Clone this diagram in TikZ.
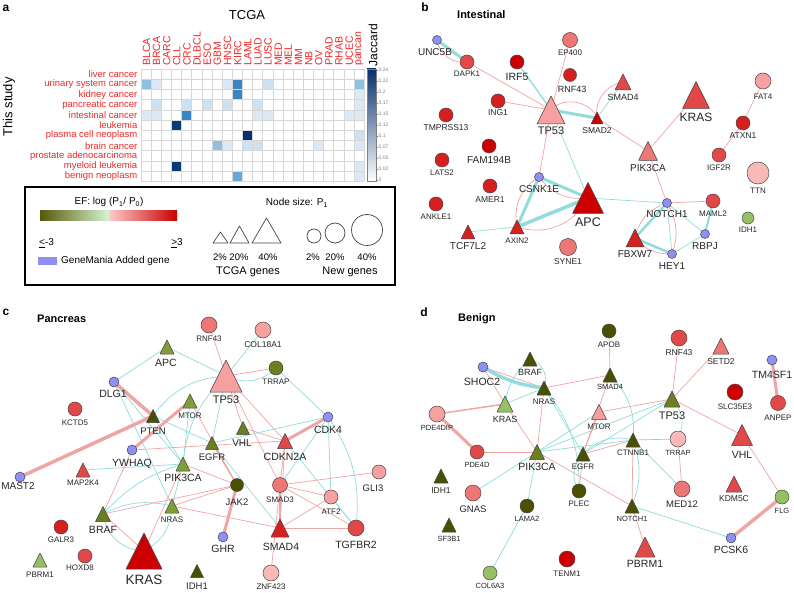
\documentclass[tikz,border=0pt]{standalone}
\usepackage{fontspec}
\setmainfont{Liberation Sans}
\usetikzlibrary{shapes.geometric}
\pgfdeclarelayer{bg}
\pgfdeclarelayer{bgback}
\pgfsetlayers{bgback,bg,main}
\definecolor{eblue}{RGB}{143,143,245}
\definecolor{r1}{RGB}{204,0,0}
\definecolor{r2}{RGB}{214,32,32}
\definecolor{r3}{RGB}{226,72,72}
\definecolor{r4}{RGB}{238,118,118}
\definecolor{r5}{RGB}{246,160,160}
\definecolor{r6}{RGB}{250,185,185}
\definecolor{g1}{RGB}{74,80,0}
\definecolor{g2}{RGB}{106,128,32}
\definecolor{g3}{RGB}{128,158,55}
\definecolor{g4}{RGB}{150,192,100}
\definecolor{redlbl}{RGB}{240,40,40}
\definecolor{edgep}{RGB}{240,165,165}
\definecolor{edgec}{RGB}{145,220,220}
\definecolor{bord}{RGB}{70,70,70}
\definecolor{gridc}{RGB}{215,215,215}
\definecolor{hA}{HTML}{DCE9F5}
\definecolor{hB}{HTML}{CCE1F1}
\definecolor{hC}{HTML}{90C0E0}
\definecolor{hD}{HTML}{6AA8D5}
\definecolor{hE}{HTML}{3A85C2}
\definecolor{hF}{HTML}{0B3A78}
\definecolor{hG}{HTML}{08306B}
\newcommand\hm[3]{\fill[#3] ({141+10.14*#1},{69+10.2*#2}) rectangle ++(10.14,10.2);}
\newcommand\mycirc[5]{\node[cnd, fill=#5, minimum size=#4pt] (#1) at (#2,#3) {};}
\newcommand\mytri[5]{\node[tbox, minimum width=#4pt, minimum height=#4pt] (#1) at (#2,#3) {};
  \filldraw[fill=#5, tborder] (#1.south west) -- (#1.south east) -- (#1.north) -- cycle;}
\newcommand\lab[5]{\node[lbl, font=\fontsize{#4}{#4}\selectfont] (#1) at (#2,#3) {#5};}
\begin{document}
\begin{tikzpicture}[x=1pt,y=-1pt,
  cnd/.style={circle, draw=bord, line width=0.5pt, inner sep=0pt, outer sep=0pt},
  tbox/.style={rectangle, draw=none, inner sep=0pt, outer sep=0pt},
  tborder/.style={draw=bord, line width=0.5pt, line join=round},
  lbl/.style={inner sep=0pt, text=black!85},
  pk/.style={draw=edgep, line width=0.7pt},
  ck/.style={draw=edgec, line width=0.7pt},
  rowl/.style={anchor=east, inner sep=0pt, text=redlbl, font=\fontsize{9.5}{9.5}\selectfont},
  coll/.style={anchor=west, rotate=90, inner sep=0pt, text=redlbl, font=\fontsize{10.5}{10.5}\selectfont},
  hdr/.style={inner sep=0pt, font=\bfseries\fontsize{12}{12}\selectfont},
  ttl/.style={inner sep=0pt, anchor=west, font=\bfseries\fontsize{11}{11}\selectfont}]
\useasboundingbox (0,0) rectangle (794,593);
\begin{pgfonlayer}{bgback}
\fill[white] (0,0) rectangle (794,593);
\end{pgfonlayer}

% ================= panel a =================
\node[hdr] (pa) at (6,8) {a};
\node[inner sep=0pt, font=\fontsize{13}{13}\selectfont] (tcga) at (247,15) {TCGA};
\node[inner sep=0pt, rotate=90, font=\fontsize{13}{13}\selectfont] (study) at (9,107) {This study};
\node[inner sep=0pt, rotate=90, font=\fontsize{12}{12}\selectfont] (jac) at (373,45) {Jaccard};
% cells
\hm{0}{1}{hC}\hm{1}{1}{hA}\hm{8}{1}{hA}\hm{9}{1}{hE}\hm{12}{1}{hB}\hm{21}{1}{hC}
\hm{9}{2}{hE}\hm{21}{2}{hA}
\hm{1}{3}{hB}\hm{4}{3}{hB}\hm{6}{3}{hB}\hm{8}{3}{hB}\hm{11}{3}{hB}\hm{21}{3}{hA}
\hm{0}{4}{hA}\hm{1}{4}{hA}\hm{4}{4}{hE}\hm{11}{4}{hA}\hm{12}{4}{hA}\hm{20}{4}{hA}\hm{21}{4}{hA}
\hm{3}{5}{hF}
\hm{10}{6}{hG}\hm{21}{6}{hB}
\hm{7}{7}{hC}\hm{8}{7}{hA}\hm{10}{7}{hB}\hm{11}{7}{hB}\hm{17}{7}{hA}\hm{21}{7}{hA}
\hm{3}{9}{hF}\hm{21}{9}{hA}
\hm{9}{10}{hD}\hm{21}{10}{hA}
\foreach \i in {0,...,22} \draw[gridc, line width=0.5pt] ({141+10.14*\i},69) -- ({141+10.14*\i},181.2);
\foreach \j in {0,...,11} \draw[gridc, line width=0.5pt] (141,{69+10.2*\j}) -- (364.1,{69+10.2*\j});
\foreach \n [count=\i from 0] in {BLCA,BRCA,CARC,CLL,CRC,DLBCL,ESO,GBM,HNSC,KIRC,LAML,LUAD,LUSC,MED,MEL,MM,NB,OV,PRAD,RHAB,UCEC,pancan}
  \node[coll] (col\i) at ({141+10.14*\i+5.4},66) {\n};
\foreach \n [count=\j from 0] in {liver cancer,urinary system cancer,kidney cancer,pancreatic cancer,intestinal cancer,leukemia,plasma cell neoplasm,brain cancer,prostate adenocarcinoma,myeloid leukemia,benign neoplasm}
  \node[rowl] (row\j) at (137.5,{69+10.2*\j+5.3}) {\n};
% colour bar
\shade[top color=hG, bottom color=white] (367,69) rectangle (376,181);
\draw[gray, line width=0.4pt] (367,69) rectangle (376,181);
\foreach \t [count=\k from 0] in {0.24,0.22,0.2,0.17,0.15,0.12,0.1,0.07,0.05,0.02,0} {
  \draw[gray, line width=0.3pt] (376,{70+11*\k}) -- (378,{70+11*\k});
  \node[anchor=west, inner sep=0.4pt, text=gray, font=\fontsize{5}{5}\selectfont] (tk\k) at (378,{70+11*\k}) {\t};
}
% legend
\draw[line width=1.3pt] (25,187) rectangle (395,285);
\node[inner sep=0pt, font=\fontsize{10}{10}\selectfont] (eflab) at (109,202) {EF: log (P\textsubscript{1}/ P\textsubscript{0})};
\shade[left color={rgb,255:red,88;green,88;blue,8}, middle color={rgb,255:red,150;green,172;blue,80}, right color={rgb,255:red,212;green,246;blue,212}] (40,211) rectangle (109,221);
\shade[left color={rgb,255:red,255;green,202;blue,202}, middle color={rgb,255:red,236;green,110;blue,110}, right color={rgb,255:red,200;green,0;blue,0}] (109,211) rectangle (177,221);
\node[inner sep=0pt, anchor=west, font=\fontsize{10}{10}\selectfont] (lowlab) at (39,243) {\underline{<}-3};
\node[inner sep=0pt, anchor=east, font=\fontsize{10}{10}\selectfont] (highlab) at (183,243) {\underline{>}3};
\fill[eblue] (38,257) rectangle (57,265);
\node[inner sep=0pt, anchor=west, font=\fontsize{10}{10}\selectfont] (gmlab) at (61,261) {GeneMania Added gene};
\node[inner sep=0pt, font=\fontsize{10}{10}\selectfont] (nslab) at (297,203) {Node size: P\textsubscript{1}};
\draw[bord, line width=0.7pt, line join=round] (213,243) -- (220.5,232) -- (228,243) -- cycle;
\draw[bord, line width=0.7pt, line join=round] (230,243) -- (239.5,226) -- (249,243) -- cycle;
\draw[bord, line width=0.7pt, line join=round] (252,243) -- (266.5,218) -- (281,243) -- cycle;
\draw[bord, line width=0.7pt] (314,236) circle (7);
\draw[bord, line width=0.7pt] (335,233) circle (10);
\draw[bord, line width=0.7pt] (367,230) circle (15.5);
\node[inner sep=0pt, font=\fontsize{9.5}{9.5}\selectfont] (p1) at (220,257) {2\%};
\node[inner sep=0pt, font=\fontsize{9.5}{9.5}\selectfont] (p2) at (239,257) {20\%};
\node[inner sep=0pt, font=\fontsize{9.5}{9.5}\selectfont] (p3) at (268,257) {40\%};
\node[inner sep=0pt, font=\fontsize{9.5}{9.5}\selectfont] (q1) at (313,257) {2\%};
\node[inner sep=0pt, font=\fontsize{9.5}{9.5}\selectfont] (q2) at (335,257) {20\%};
\node[inner sep=0pt, font=\fontsize{9.5}{9.5}\selectfont] (q3) at (367,257) {40\%};
\node[inner sep=0pt, font=\fontsize{11}{11}\selectfont] (tg) at (248,272) {TCGA genes};
\node[inner sep=0pt, font=\fontsize{11}{11}\selectfont] (ng) at (350,272) {New genes};

% ================= panel b =================
\node[hdr] (pb) at (425,7) {b};
\node[ttl] (tb) at (457,15) {Intestinal};
\mycirc{bUNC5B}{437}{40}{9}{eblue}
\mycirc{bDAPK1}{467}{62}{14}{r3}
\mycirc{bIRF5}{517}{62}{14}{r1}
\mycirc{bEP400}{570}{40}{15}{r4}
\mycirc{bRNF43}{570}{75}{13}{r2}
\mytri{bSMAD4}{623}{82}{16}{r3}
\mytri{bKRAS}{696}{95}{27}{r3}
\mycirc{bFAT4}{763}{81}{16}{r5}
\mycirc{bING1}{498}{101}{14}{r2}
\mytri{bTP53}{551}{110}{28}{r5}
\mytri{bSMAD2}{597}{118}{12}{r1}
\mycirc{bTMPRSS13}{446}{115}{14}{r2}
\mycirc{bATXN1}{743}{123}{14}{r2}
\mycirc{bFAM194B}{489}{146}{14}{r1}
\mycirc{bLATS2}{442}{160}{14}{r2}
\mytri{bPIK3CA}{648}{151}{19}{r4}
\mycirc{bIGF2R}{719}{155}{14}{r3}
\mycirc{bTTN}{758}{173}{22}{r6}
\mycirc{bCSNK1E}{539}{177}{9}{eblue}
\mycirc{bAMER1}{490}{186}{14}{r2}
\mytri{bAPC}{588}{198}{31}{r1}
\mycirc{bNOTCH1}{667}{203}{9}{eblue}
\mycirc{bMAML2}{713}{201}{14}{r3}
\mycirc{bANKLE1}{436}{204}{14}{r2}
\mycirc{bIDH1}{748}{218}{12}{g4}
\mytri{bTCF7L2}{468}{232}{14}{r2}
\mytri{bAXIN2}{517}{227}{14}{r2}
\mycirc{bSYNE1}{568}{247}{17}{r4}
\mytri{bFBXW7}{635}{238}{18}{r2}
\mycirc{bRBPJ}{705}{234}{9}{eblue}
\mycirc{bHEY1}{672}{254}{9}{eblue}
\lab{bUNC5BL}{435}{52}{10}{UNC5B}
\lab{bDAPK1L}{467}{74}{8}{DAPK1}
\lab{bIRF5L}{517}{77}{10.5}{IRF5}
\lab{bEP400L}{570}{53}{8}{EP400}
\lab{bRNF43L}{572}{89}{9}{RNF43}
\lab{bSMAD4L}{623}{97}{9}{SMAD4}
\lab{bKRASL}{696}{117}{12}{KRAS}
\lab{bFAT4L}{763}{97}{8}{FAT4}
\lab{bING1L}{498}{113}{8.5}{ING1}
\lab{bTP53L}{551}{131}{11}{TP53}
\lab{bSMAD2L}{597}{131}{8.5}{SMAD2}
\lab{bTMPRSS13L}{446}{128}{8.5}{TMPRSS13}
\lab{bATXN1L}{743}{136}{8.5}{ATXN1}
\lab{bFAM194BL}{489}{160}{10}{FAM194B}
\lab{bLATS2L}{442}{173}{8}{LATS2}
\lab{bPIK3CAL}{648}{168}{10}{PIK3CA}
\lab{bIGF2RL}{719}{168}{8}{IGF2R}
\lab{bTTNL}{758}{191}{8}{TTN}
\lab{bCSNK1EL}{539}{189}{10}{CSNK1E}
\lab{bAMER1L}{490}{200}{8.5}{AMER1}
\lab{bAPCL}{588}{222}{12.5}{APC}
\lab{bNOTCH1L}{667}{214}{10}{NOTCH1}
\lab{bMAML2L}{713}{214}{8}{MAML2}
\lab{bANKLE1L}{436}{217}{8}{ANKLE1}
\lab{bIDH1L}{748}{230}{8}{IDH1}
\lab{bTCF7L2L}{468}{246}{10}{TCF7L2}
\lab{bAXIN2L}{517}{241}{8}{AXIN2}
\lab{bSYNE1L}{568}{262}{8.5}{SYNE1}
\lab{bFBXW7L}{635}{254}{10}{FBXW7}
\lab{bRBPJL}{705}{246}{10}{RBPJ}
\lab{bHEY1L}{672}{266}{10}{HEY1}
\begin{pgfonlayer}{bg}
\draw[ck, line width=3pt] (bUNC5B.center) -- (bDAPK1.center);
\draw[pk] (bUNC5B.center) to[bend right=45] (bDAPK1.center);
\draw[pk] (bDAPK1.center) -- (bTP53.center);
\draw[ck, line width=1.3pt] (bIRF5.center) -- (bTP53.center);
\draw[pk] (bEP400.center) -- (bTP53.center);
\draw[pk] (bING1.center) -- (bTP53.center);
\draw[ck, line width=3pt] (bTP53.center) -- (bSMAD2.center);
\draw[pk] (bTP53.center) to[bend left=60] (bSMAD2.center);
\draw[pk] (bSMAD2.center) to[bend left=45] (bSMAD4.center);
\draw[ck] (bSMAD2.center) -- (bSMAD4.center);
\draw[pk] (bSMAD2.center) -- (bPIK3CA.center);
\draw[pk] (bKRAS.center) -- (bPIK3CA.center);
\draw[pk] (bFAT4.center) -- (bATXN1.center);
\draw[pk] (bATXN1.center) -- (bIGF2R.center);
\draw[pk] (bTP53.center) -- (bCSNK1E.center);
\draw[ck] (bTP53.center) -- (bAPC.center);
\draw[ck, line width=3pt] (bCSNK1E.center) -- (bAPC.center);
\draw[pk] (bCSNK1E.center) to[bend right=30] (bAPC.center);
\draw[ck, line width=3pt] (bCSNK1E.center) -- (bAXIN2.center);
\draw[pk] (bCSNK1E.center) to[bend right=35] (bAXIN2.center);
\draw[ck, line width=3.5pt] (bAXIN2.center) -- (bAPC.center);
\draw[pk] (bAXIN2.center) to[bend right=40] (bAPC.center);
\draw[ck] (bTCF7L2.center) -- (bAXIN2.center);
\draw[ck] (bAPC.center) -- (bNOTCH1.center);
\draw[pk] (bPIK3CA.center) -- (bNOTCH1.center);
\draw[pk] (bNOTCH1.center) -- (bMAML2.center);
\draw[ck, line width=2.5pt] (bNOTCH1.center) -- (bFBXW7.center);
\draw[ck, line width=2.5pt] (bFBXW7.center) -- (bHEY1.center);
\draw[ck] (bNOTCH1.center) -- (bHEY1.center);
\draw[pk] (bNOTCH1.center) to[bend left=25] (bHEY1.center);
\draw[pk] (bFBXW7.center) to[bend left=30] (bNOTCH1.center);
\draw[pk] (bFBXW7.center) to[bend right=25] (bHEY1.center);
\draw[ck] (bNOTCH1.center) -- (bRBPJ.center);
\draw[ck] (bRBPJ.center) -- (bHEY1.center);
\draw[ck, line width=2pt] (bMAML2.center) -- (bRBPJ.center);
\end{pgfonlayer}

% ================= panel c =================
\node[hdr] (pc) at (6,312) {c};
\node[ttl] (tc) at (37,319) {Pancreas};
\mycirc{cRNF43}{209}{325}{16}{r4}
\mycirc{cCOL18A1}{263}{330}{16}{r5}
\mytri{cAPC}{167}{347}{14}{g3}
\mytri{cTP53}{226}{376}{32}{r5}
\mycirc{cTRRAP}{276}{368}{14}{g2}
\mycirc{cDLG1}{114}{382}{10}{eblue}
\mycirc{cKCTD5}{75}{409}{14}{r3}
\mytri{cPTEN}{153}{416}{13}{g1}
\mytri{cMTOR}{190}{401}{14}{g3}
\mytri{cVHL}{243}{428}{13}{g2}
\mycirc{cCDK4}{328}{417}{10}{eblue}
\mytri{cEGFR}{212}{443}{13}{g2}
\mytri{cCDKN2A}{285}{441}{15}{r3}
\mycirc{cYWHAQ}{132}{450}{10}{eblue}
\mytri{cPIK3CA}{183}{464}{14}{g3}
\mycirc{cMAST2}{20}{477}{10}{eblue}
\mytri{cMAP2K4}{83}{470}{14}{r3}
\mycirc{cJAK2}{237}{485}{13}{g1}
\mycirc{cSMAD3}{280}{485}{15}{r4}
\mycirc{cGLI3}{379}{472}{14}{r5}
\mycirc{cATF2}{331}{497}{14}{r5}
\mytri{cBRAF}{103}{514}{15}{g2}
\mytri{cNRAS}{172}{506}{14}{g3}
\mycirc{cGALR3}{61}{527}{14}{r2}
\mytri{cKRAS}{144}{551}{36}{r1}
\mycirc{cGHR}{223}{537}{10}{eblue}
\mytri{cSMAD4}{280}{528}{18}{r2}
\mycirc{cTGFBR2}{356}{528}{16}{r3}
\mytri{cPBRM1}{40}{560}{14}{g4}
\mycirc{cHOXD8}{85}{556}{14}{r3}
\mytri{cIDH1}{197}{571}{13}{g1}
\mycirc{cZNF423}{271}{573}{16}{r6}
\lab{cRNF43L}{209}{339}{8}{RNF43}
\lab{cCOL18A1L}{263}{345}{8.5}{COL18A1}
\lab{cAPCL}{166}{363}{10.5}{APC}
\lab{cTP53L}{226}{400}{11}{TP53}
\lab{cTRRAPL}{276}{382}{8}{TRRAP}
\lab{cDLG1L}{113}{394}{10.5}{DLG1}
\lab{cKCTD5L}{75}{423}{8}{KCTD5}
\lab{cPTENL}{153}{431}{9.5}{PTEN}
\lab{cMTORL}{190}{416}{8}{MTOR}
\lab{cVHLL}{242}{443}{10}{VHL}
\lab{cCDK4L}{328}{430}{10.5}{CDK4}
\lab{cEGFRL}{212}{457}{9.5}{EGFR}
\lab{cCDKN2AL}{285}{457}{10.5}{CDKN2A}
\lab{cYWHAQL}{132}{464}{10.5}{YWHAQ}
\lab{cPIK3CAL}{183}{478}{10.5}{PIK3CA}
\lab{cMAST2L}{18}{486}{10}{MAST2}
\lab{cMAP2K4L}{83}{483}{8}{MAP2K4}
\lab{cJAK2L}{237}{502}{9.5}{JAK2}
\lab{cSMAD3L}{280}{500}{8}{SMAD3}
\lab{cGLI3L}{373}{488}{9.5}{GLI3}
\lab{cATF2L}{331}{512}{8}{ATF2}
\lab{cBRAFL}{103}{530}{10.5}{BRAF}
\lab{cNRASL}{172}{520}{8}{NRAS}
\lab{cGALR3L}{61}{540}{8}{GALR3}
\lab{cKRASL}{144}{580}{13.5}{KRAS}
\lab{cGHRL}{223}{549}{10.5}{GHR}
\lab{cSMAD4L}{281}{547}{10.5}{SMAD4}
\lab{cTGFBR2L}{356}{545}{10.5}{TGFBR2}
\lab{cPBRM1L}{40}{575}{8}{PBRM1}
\lab{cHOXD8L}{80}{568}{8}{HOXD8}
\lab{cIDH1L}{197}{586}{9.5}{IDH1}
\lab{cZNF423L}{271}{587}{8}{ZNF423}
\begin{pgfonlayer}{bg}
\draw[ck] (cDLG1.center) -- (cAPC.center);
\draw[ck] (cAPC.center) -- (cTP53.center);
\draw[ck] (cCOL18A1.center) -- (cTP53.center);
\draw[pk] (cRNF43.center) -- (cTP53.center);
\draw[pk] (cTP53.center) -- (cTRRAP.center);
\draw[ck] (cTP53.center) to[bend right=35] (cTRRAP.center);
\draw[ck] (cTRRAP.center) -- (cCDK4.center);
\draw[ck] (cTP53.center) to[bend right=25] (cPTEN.center);
\draw[ck] (cTP53.center) to[bend right=20] (cPIK3CA.center);
\draw[ck] (cTP53.center) -- (cEGFR.center);
\draw[pk] (cTP53.center) -- (cCDKN2A.center);
\draw[pk] (cTP53.center) -- (cSMAD3.center);
\draw[pk] (cTP53.center) -- (cVHL.center);
\draw[ck] (cDLG1.center) -- (cPIK3CA.center);
\draw[ck] (cDLG1.center) -- (cNRAS.center);
\draw[ck] (cPTEN.center) -- (cEGFR.center);
\draw[ck] (cPTEN.center) -- (cPIK3CA.center);
\draw[ck] (cMTOR.center) -- (cPIK3CA.center);
\draw[pk] (cMTOR.center) -- (cJAK2.center);
\draw[pk, line width=1.3pt] (cEGFR.center) -- (cJAK2.center);
\draw[pk] (cVHL.center) -- (cCDKN2A.center);
\draw[pk] (cYWHAQ.center) -- (cCDKN2A.center);
\draw[pk] (cYWHAQ.center) -- (cBRAF.center);
\draw[ck] (cEGFR.center) -- (cCDK4.center);
\draw[ck] (cMAP2K4.center) -- (cPIK3CA.center);
\draw[ck] (cPIK3CA.center) -- (cNRAS.center);
\draw[pk] (cPIK3CA.center) -- (cJAK2.center);
\draw[pk] (cPIK3CA.center) -- (cKRAS.center);
\draw[ck] (cBRAF.center) to[bend left=20] (cNRAS.center);
\draw[ck] (cBRAF.center) to[bend left=15] (cPIK3CA.center);
\draw[pk] (cBRAF.center) -- (cKRAS.center);
\draw[pk] (cBRAF.center) -- (cJAK2.center);
\draw[ck] (cBRAF.center) to[bend right=40] (cKRAS.center);
\draw[ck] (cKRAS.center) to[bend right=30] (cNRAS.center);
\draw[pk] (cNRAS.center) -- (cSMAD4.center);
\draw[pk] (cNRAS.center) -- (cJAK2.center);
\draw[ck] (cEGFR.center) -- (cSMAD4.center);
\draw[pk] (cCDKN2A.center) -- (cSMAD3.center);
\draw[pk] (cCDKN2A.center) -- (cSMAD4.center);
\draw[ck] (cCDK4.center) -- (cSMAD3.center);
\draw[ck] (cCDK4.center) to[bend left=20] (cTGFBR2.center);
\draw[ck] (cCDK4.center) -- (cATF2.center);
\draw[ck] (cCDKN2A.center) -- (cTGFBR2.center);
\draw[pk] (cSMAD3.center) -- (cATF2.center);
\draw[pk] (cSMAD3.center) -- (cGLI3.center);
\draw[pk] (cSMAD3.center) -- (cTGFBR2.center);
\draw[pk] (cSMAD4.center) -- (cTGFBR2.center);
\draw[pk] (cSMAD4.center) -- (cATF2.center);
\draw[ck] (cATF2.center) -- (cTGFBR2.center);
\draw[pk] (cSMAD3.center) -- (cZNF423.center);
\draw[pk, line width=3.5pt] (cDLG1.center) -- (cPTEN.center);
\draw[pk, line width=3.5pt] (cMAST2.center) -- (cPTEN.center);
\draw[pk, line width=3pt] (cYWHAQ.center) -- (cMTOR.center);
\draw[pk, line width=3pt] (cCDK4.center) -- (cCDKN2A.center);
\draw[pk, line width=3pt] (cJAK2.center) -- (cGHR.center);
\draw[pk, line width=2.5pt] (cSMAD3.center) -- (cSMAD4.center);
\end{pgfonlayer}

% ================= panel d =================
\node[hdr] (pd) at (424,312) {d};
\node[ttl] (td) at (458,319) {Benign};
\mycirc{dAPOB}{609}{331}{14}{g1}
\mycirc{dRNF43}{679}{338}{16}{r3}
\mytri{dSETD2}{721}{346}{16}{r4}
\mycirc{dTM4SF1}{772}{360}{10}{eblue}
\mytri{dBRAF}{530}{359}{14}{g1}
\mycirc{dSHOC2}{483}{367}{10}{eblue}
\mytri{dNRAS}{544}{388}{14}{g1}
\mytri{dSMAD4}{610}{375}{14}{g1}
\mycirc{dSLC35E3}{735}{392}{16}{r1}
\mytri{dTP53}{672}{399}{16}{g2}
\mytri{dKRAS}{505}{404}{16}{g4}
\mycirc{dANPEP}{778}{403}{15}{r3}
\mycirc{dPDE4DIP}{437}{414}{16}{r5}
\mytri{dMTOR}{599}{412}{15}{r5}
\mytri{dVHL}{742}{435}{21}{r3}
\mytri{dCTNNB1}{633}{440}{14}{g1}
\mycirc{dTRRAP}{678}{439}{16}{r6}
\mycirc{dPDE4D}{477}{452}{14}{r3}
\mytri{dPIK3CA}{537}{452}{15}{g2}
\mytri{dEGFR}{583}{454}{14}{g1}
\mytri{dIDH1}{441}{476}{14}{g1}
\mycirc{dGNAS}{473}{493}{16}{r4}
\mycirc{dLAMA2}{527}{506}{14}{g1}
\mycirc{dPLEC}{579}{491}{14}{g1}
\mytri{dNOTCH1}{632}{506}{14}{g1}
\mycirc{dMED12}{682}{489}{16}{r4}
\mytri{dKDM5C}{734}{484}{16}{r3}
\mycirc{dFLG}{782}{497}{14}{g4}
\mytri{dSF3B1}{449}{525}{14}{g1}
\mycirc{dPCSK6}{731}{538}{10}{eblue}
\mytri{dPBRM1}{645}{547}{20}{r3}
\mycirc{dTENM1}{567}{559}{16}{r1}
\mycirc{dCOL6A3}{490}{573}{14}{g4}
\lab{dAPOBL}{609}{345}{8}{APOB}
\lab{dRNF43L}{679}{353}{8.5}{RNF43}
\lab{dSETD2L}{721}{362}{8.5}{SETD2}
\lab{dTM4SF1L}{772}{375}{10.5}{TM4SF1}
\lab{dBRAFL}{530}{372}{9}{BRAF}
\lab{dSHOC2L}{482}{382}{10.5}{SHOC2}
\lab{dNRASL}{544}{402}{8}{NRAS}
\lab{dSMAD4L}{610}{387}{7.5}{SMAD4}
\lab{dSLC35E3L}{735}{407}{8}{SLC35E3}
\lab{dTP53L}{672}{416}{11}{TP53}
\lab{dKRASL}{505}{419}{9}{KRAS}
\lab{dANPEPL}{778}{418}{8}{ANPEP}
\lab{dPDE4DIPL}{437}{428}{7.5}{PDE4DIP}
\lab{dMTORL}{599}{427}{8}{MTOR}
\lab{dVHLL}{742}{455}{10.5}{VHL}
\lab{dCTNNB1L}{633}{453}{8}{CTNNB1}
\lab{dTRRAPL}{678}{453}{7.5}{TRRAP}
\lab{dPDE4DL}{477}{465}{7.5}{PDE4D}
\lab{dPIK3CAL}{537}{467}{10.5}{PIK3CA}
\lab{dEGFRL}{583}{467}{8}{EGFR}
\lab{dIDH1L}{441}{491}{8.5}{IDH1}
\lab{dGNASL}{473}{509}{9.5}{GNAS}
\lab{dLAMA2L}{527}{519}{7.5}{LAMA2}
\lab{dPLECL}{579}{504}{8}{PLEC}
\lab{dNOTCH1L}{632}{519}{7.5}{NOTCH1}
\lab{dMED12L}{682}{504}{9.5}{MED12}
\lab{dKDM5CL}{734}{499}{8.5}{KDM5C}
\lab{dFLGL}{782}{511}{7.5}{FLG}
\lab{dSF3B1L}{449}{539}{7.5}{SF3B1}
\lab{dPCSK6L}{731}{550}{10.5}{PCSK6}
\lab{dPBRM1L}{645}{564}{10.5}{PBRM1}
\lab{dTENM1L}{567}{574}{8}{TENM1}
\lab{dCOL6A3L}{490}{586}{7.5}{COL6A3}
\begin{pgfonlayer}{bg}
\draw[pk] (dSHOC2.center) -- (dNRAS.center);
\draw[pk] (dSHOC2.center) -- (dKRAS.center);
\draw[ck] (dBRAF.center) to[bend left=50] (dNRAS.center);
\draw[ck] (dKRAS.center) -- (dNRAS.center);
\draw[ck] (dKRAS.center) to[bend left=20] (dBRAF.center);
\draw[pk] (dNRAS.center) -- (dSMAD4.center);
\draw[pk, line width=1.5pt] (dKRAS.center) -- (dPDE4DIP.center);
\draw[pk] (dPDE4D.center) -- (dPIK3CA.center);
\draw[ck] (dAPOB.center) -- (dSMAD4.center);
\draw[pk] (dSMAD4.center) -- (dEGFR.center);
\draw[ck] (dSMAD4.center) to[bend left=25] (dCTNNB1.center);
\draw[pk] (dRNF43.center) -- (dTP53.center);
\draw[pk] (dSETD2.center) -- (dTP53.center);
\draw[pk] (dTP53.center) -- (dVHL.center);
\draw[pk] (dTP53.center) -- (dMTOR.center);
\draw[ck] (dTP53.center) -- (dEGFR.center);
\draw[ck] (dTP53.center) -- (dPIK3CA.center);
\draw[ck] (dTP53.center) to[bend left=35] (dTRRAP.center);
\draw[pk] (dVHL.center) -- (dFLG.center);
\draw[ck] (dNOTCH1.center) -- (dPCSK6.center);
\draw[pk] (dNOTCH1.center) -- (dPBRM1.center);
\draw[pk] (dCTNNB1.center) -- (dNOTCH1.center);
\draw[ck] (dCTNNB1.center) to[bend left=20] (dNOTCH1.center);
\draw[ck] (dCTNNB1.center) -- (dMED12.center);
\draw[pk] (dTRRAP.center) -- (dMED12.center);
\draw[pk] (dCTNNB1.center) -- (dTRRAP.center);
\draw[pk] (dPIK3CA.center) -- (dNOTCH1.center);
\draw[pk] (dMTOR.center) -- (dEGFR.center);
\draw[ck] (dMTOR.center) -- (dPIK3CA.center);
\draw[pk] (dNRAS.center) -- (dPIK3CA.center);
\draw[pk] (dKRAS.center) -- (dPIK3CA.center);
\draw[ck] (dNRAS.center) -- (dEGFR.center);
\draw[ck] (dNRAS.center) to[bend left=20] (dPLEC.center);
\draw[pk] (dEGFR.center) -- (dPLEC.center);
\draw[ck] (dEGFR.center) to[bend right=40] (dPLEC.center);
\draw[pk] (dEGFR.center) -- (dCTNNB1.center);
\draw[ck] (dEGFR.center) to[bend left=30] (dCTNNB1.center);
\draw[ck] (dPIK3CA.center) -- (dCTNNB1.center);
\draw[ck] (dPIK3CA.center) -- (dGNAS.center);
\draw[ck] (dPIK3CA.center) -- (dLAMA2.center);
\draw[ck] (dLAMA2.center) -- (dCOL6A3.center);
\draw[ck, line width=3.5pt] (dSHOC2.center) to[bend right=12] (dNRAS.center);
\draw[pk, line width=3pt] (dPDE4DIP.center) -- (dPDE4D.center);
\draw[pk, line width=3pt] (dTM4SF1.center) -- (dANPEP.center);
\draw[pk, line width=3.5pt] (dFLG.center) -- (dPCSK6.center);
\end{pgfonlayer}
\end{tikzpicture}
\end{document}
